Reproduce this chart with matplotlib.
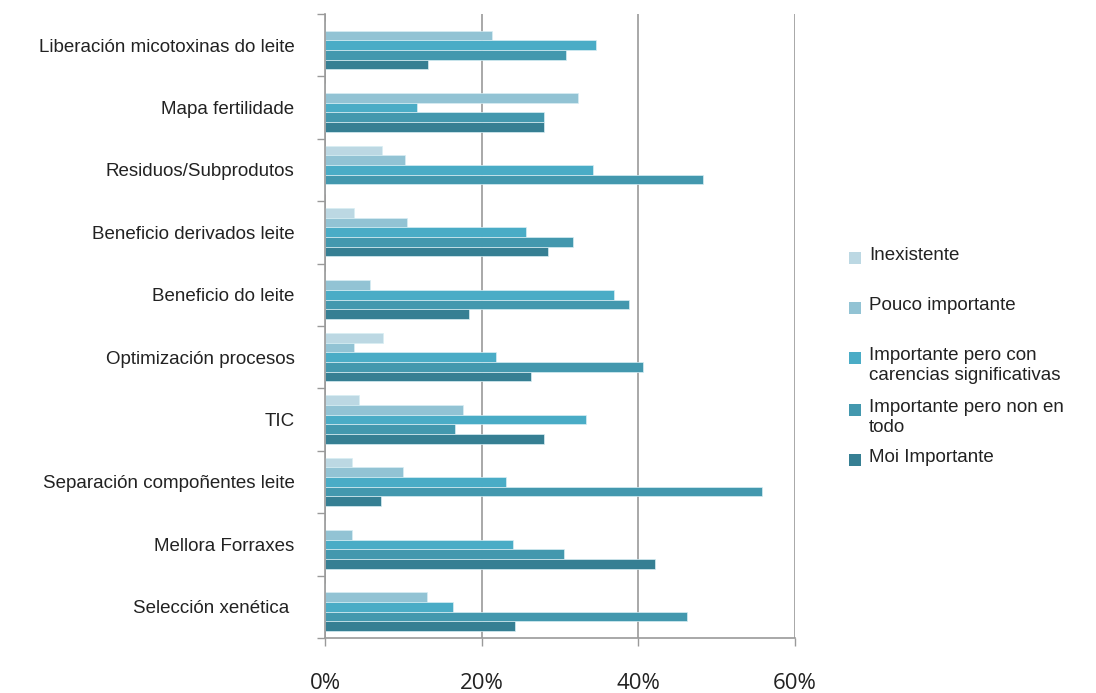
import numpy as np
import matplotlib.pyplot as plt
from matplotlib.patches import Rectangle
from matplotlib.ticker import FixedLocator, FuncFormatter

categories = [
    "Liberación micotoxinas do leite",
    "Mapa fertilidade",
    "Residuos/Subprodutos",
    "Beneficio derivados leite",
    "Beneficio do leite",
    "Optimización procesos",
    "TIC",
    "Separación compoñentes leite",
    "Mellora Forraxes",
    "Selección xenética ",
]
series_names = [
    "Inexistente",
    "Pouco importante",
    "Importante pero con\ncarencias significativas",
    "Importante pero non en\ntodo",
    "Moi Importante",
]
inexistente = [0.0, 0.0, 7.3, 3.7, 0.0, 7.4, 4.3, 3.5, 0.0, 0.0]
pouco = [21.3, 32.3, 10.2, 10.5, 5.8, 3.7, 17.6, 10.0, 3.5, 13.0]
carencias = [34.6, 11.8, 34.2, 25.6, 36.9, 21.8, 33.3, 23.1, 24.0, 16.4]
non_en_todo = [30.8, 28.0, 48.2, 31.7, 38.8, 40.6, 16.6, 55.8, 30.5, 46.2]
moi = [13.1, 28.0, 0.0, 28.5, 18.4, 26.3, 28.0, 7.1, 42.1, 24.3]
series = [inexistente, pouco, carencias, non_en_todo, moi]
colors = ["#bcd8e3", "#92c3d4", "#4aacc6", "#4398ae", "#367f93"]

fig = plt.figure(figsize=(10.96, 6.93), dpi=100)
ax = fig.add_axes([0.2965, 0.0794, 0.4289, 0.9006])

y = np.arange(len(categories))
h = 0.155
for j, (vals, col) in enumerate(zip(series, colors)):
    ax.barh(y + (j - 2) * h, vals, height=h, color=col,
            edgecolor="#d8eef4", linewidth=0.5)

ax.set_ylim(len(categories) - 0.5, -0.5)
ax.set_xlim(0, 60)
ax.set_yticks(y)
ax.set_yticklabels(categories, family="Liberation Sans", fontsize=13.5, color="#222222")
ax.yaxis.set_minor_locator(FixedLocator(np.arange(-0.5, len(categories), 1)))
ax.tick_params(axis="y", which="major", length=0, pad=22)
ax.tick_params(axis="y", which="minor", length=6, color="#9a9a9a", width=1)

ax.set_xticks([0, 20, 40, 60])
ax.xaxis.set_major_formatter(FuncFormatter(lambda v, p: f"{v:.0f}%"))
ax.tick_params(axis="x", length=6, color="#9a9a9a", width=1, pad=19,
               labelsize=16, labelcolor="#222222")
for lbl in ax.get_xticklabels():
    lbl.set_family("Open Sans")

ax.grid(axis="x", color="#9a9a9a", linewidth=1.2)
ax.set_axisbelow(True)
for s in ["top", "right"]:
    ax.spines[s].set_visible(False)
for s in ["left", "bottom"]:
    ax.spines[s].set_color("#9a9a9a")
    ax.spines[s].set_linewidth(1.2)

# legend drawn by hand to keep Excel's uneven spacing
leg_y = [258, 308, 358, 410, 460]
for name, col, py in zip(series_names, colors, leg_y):
    fy = 1 - py / 693
    fig.patches.append(Rectangle((849 / 1096, fy - 6 / 693), 12 / 1096, 12 / 693,
                                 transform=fig.transFigure, facecolor=col,
                                 edgecolor="none"))
    fig.text(869 / 1096, fy + 11 / 693, name, family="Liberation Sans",
             fontsize=13.5, color="#222222", va="top", ha="left", linespacing=1.2)

fig.savefig("out.png", dpi=100)
